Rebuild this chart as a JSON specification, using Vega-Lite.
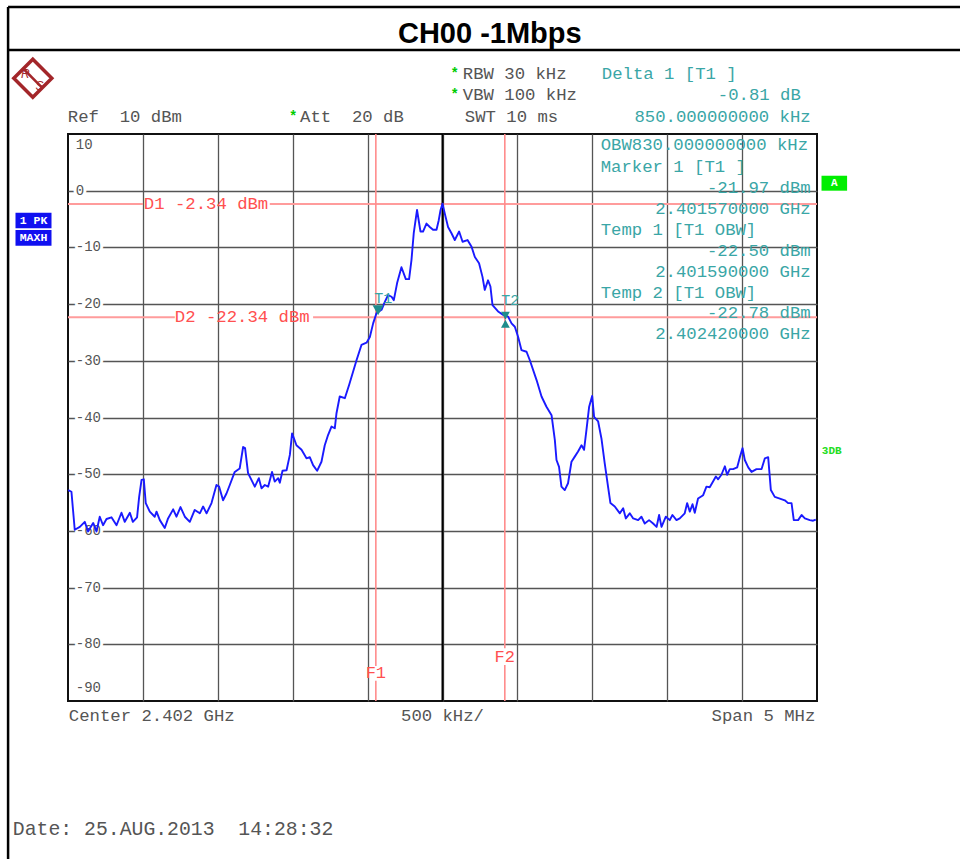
{
  "$schema": "https://vega.github.io/schema/vega-lite/v6.json",
  "width": 749,
  "height": 567,
  "autosize": {"type": "none"},
  "padding": {"left": 68, "top": 134, "right": 143, "bottom": 158},
  "background": "white",
  "config": {"view": {"stroke": "#111111", "strokeWidth": 2}},
  "datasets": {
    "trace": [
      {"x":-2.499,"y":-52.8},{"x":-2.477,"y":-53.1},{"x":-2.455,"y":-59.8},{"x":-2.421,"y":-59.3},{"x":-2.388,"y":-58.4},{"x":-2.366,"y":-60.1},{"x":-2.332,"y":-58.6},{"x":-2.310,"y":-60.1},{"x":-2.288,"y":-57.5},{"x":-2.266,"y":-59.0},{"x":-2.243,"y":-57.9},{"x":-2.210,"y":-57.6},{"x":-2.176,"y":-59.0},{"x":-2.143,"y":-56.8},{"x":-2.121,"y":-58.4},{"x":-2.087,"y":-56.8},{"x":-2.067,"y":-58.4},{"x":-2.039,"y":-57.6},{"x":-2.025,"y":-54.0},{"x":-2.009,"y":-51.0},{"x":-1.994,"y":-50.9},{"x":-1.981,"y":-55.1},{"x":-1.954,"y":-56.6},{"x":-1.921,"y":-57.5},{"x":-1.909,"y":-56.6},{"x":-1.887,"y":-58.1},{"x":-1.854,"y":-59.5},{"x":-1.832,"y":-57.8},{"x":-1.798,"y":-56.2},{"x":-1.776,"y":-57.5},{"x":-1.749,"y":-55.8},{"x":-1.720,"y":-57.5},{"x":-1.687,"y":-58.4},{"x":-1.654,"y":-56.3},{"x":-1.620,"y":-56.9},{"x":-1.598,"y":-55.7},{"x":-1.575,"y":-56.9},{"x":-1.542,"y":-55.1},{"x":-1.509,"y":-51.9},{"x":-1.491,"y":-52.2},{"x":-1.465,"y":-54.6},{"x":-1.442,"y":-53.4},{"x":-1.420,"y":-51.9},{"x":-1.387,"y":-49.6},{"x":-1.354,"y":-49.0},{"x":-1.331,"y":-45.2},{"x":-1.318,"y":-45.4},{"x":-1.298,"y":-49.8},{"x":-1.253,"y":-52.2},{"x":-1.226,"y":-50.7},{"x":-1.208,"y":-52.5},{"x":-1.186,"y":-51.9},{"x":-1.164,"y":-52.2},{"x":-1.138,"y":-49.6},{"x":-1.120,"y":-51.3},{"x":-1.097,"y":-50.7},{"x":-1.086,"y":-51.5},{"x":-1.068,"y":-49.4},{"x":-1.041,"y":-49.3},{"x":-1.019,"y":-46.6},{"x":-1.004,"y":-42.8},{"x":-0.975,"y":-44.9},{"x":-0.941,"y":-45.7},{"x":-0.908,"y":-47.2},{"x":-0.886,"y":-47.0},{"x":-0.864,"y":-48.4},{"x":-0.837,"y":-49.4},{"x":-0.808,"y":-47.8},{"x":-0.786,"y":-44.9},{"x":-0.764,"y":-43.1},{"x":-0.741,"y":-41.6},{"x":-0.719,"y":-41.9},{"x":-0.708,"y":-39.3},{"x":-0.686,"y":-36.3},{"x":-0.652,"y":-36.6},{"x":-0.624,"y":-34.3},{"x":-0.574,"y":-29.9},{"x":-0.541,"y":-27.2},{"x":-0.507,"y":-26.8},{"x":-0.485,"y":-25.8},{"x":-0.463,"y":-23.4},{"x":-0.441,"y":-21.6},{"x":-0.407,"y":-21.0},{"x":-0.385,"y":-19.6},{"x":-0.363,"y":-18.4},{"x":-0.340,"y":-18.7},{"x":-0.325,"y":-19.3},{"x":-0.303,"y":-16.3},{"x":-0.274,"y":-13.5},{"x":-0.245,"y":-15.6},{"x":-0.223,"y":-15.6},{"x":-0.207,"y":-12.2},{"x":-0.192,"y":-7.5},{"x":-0.170,"y":-3.4},{"x":-0.147,"y":-7.2},{"x":-0.130,"y":-7.2},{"x":-0.107,"y":-5.8},{"x":-0.085,"y":-6.4},{"x":-0.063,"y":-6.9},{"x":-0.040,"y":-6.9},{"x":-0.025,"y":-5.2},{"x":-0.013,"y":-3.4},{"x":0.000,"y":-2.3},{"x":0.015,"y":-4.0},{"x":0.037,"y":-6.4},{"x":0.060,"y":-7.5},{"x":0.082,"y":-8.7},{"x":0.111,"y":-7.2},{"x":0.134,"y":-9.0},{"x":0.167,"y":-8.7},{"x":0.194,"y":-9.9},{"x":0.216,"y":-11.7},{"x":0.244,"y":-12.8},{"x":0.267,"y":-15.2},{"x":0.282,"y":-17.5},{"x":0.304,"y":-15.8},{"x":0.320,"y":-16.9},{"x":0.334,"y":-20.2},{"x":0.371,"y":-21.3},{"x":0.405,"y":-21.9},{"x":0.438,"y":-22.2},{"x":0.461,"y":-23.4},{"x":0.483,"y":-24.0},{"x":0.505,"y":-25.8},{"x":0.527,"y":-28.1},{"x":0.561,"y":-28.4},{"x":0.583,"y":-29.9},{"x":0.628,"y":-33.4},{"x":0.661,"y":-36.3},{"x":0.694,"y":-38.1},{"x":0.728,"y":-39.6},{"x":0.750,"y":-44.0},{"x":0.761,"y":-47.5},{"x":0.778,"y":-48.7},{"x":0.794,"y":-52.2},{"x":0.816,"y":-52.8},{"x":0.838,"y":-51.6},{"x":0.861,"y":-47.8},{"x":0.883,"y":-46.9},{"x":0.905,"y":-46.0},{"x":0.928,"y":-44.9},{"x":0.945,"y":-45.7},{"x":0.961,"y":-42.2},{"x":0.979,"y":-38.1},{"x":0.999,"y":-36.2},{"x":1.012,"y":-39.9},{"x":1.039,"y":-40.7},{"x":1.061,"y":-43.7},{"x":1.083,"y":-48.1},{"x":1.105,"y":-52.2},{"x":1.121,"y":-55.1},{"x":1.150,"y":-55.7},{"x":1.184,"y":-56.9},{"x":1.206,"y":-56.0},{"x":1.224,"y":-57.8},{"x":1.250,"y":-56.9},{"x":1.273,"y":-57.8},{"x":1.306,"y":-58.1},{"x":1.328,"y":-57.5},{"x":1.350,"y":-58.7},{"x":1.379,"y":-58.1},{"x":1.406,"y":-58.7},{"x":1.429,"y":-59.3},{"x":1.446,"y":-57.2},{"x":1.462,"y":-59.3},{"x":1.491,"y":-57.5},{"x":1.517,"y":-58.1},{"x":1.535,"y":-57.2},{"x":1.562,"y":-58.1},{"x":1.584,"y":-57.8},{"x":1.617,"y":-56.9},{"x":1.633,"y":-55.1},{"x":1.651,"y":-56.6},{"x":1.669,"y":-55.3},{"x":1.684,"y":-56.8},{"x":1.706,"y":-54.3},{"x":1.740,"y":-53.7},{"x":1.762,"y":-52.2},{"x":1.784,"y":-52.3},{"x":1.806,"y":-51.3},{"x":1.825,"y":-50.4},{"x":1.840,"y":-50.9},{"x":1.862,"y":-50.1},{"x":1.885,"y":-48.6},{"x":1.900,"y":-50.1},{"x":1.918,"y":-49.1},{"x":1.940,"y":-49.1},{"x":1.967,"y":-48.8},{"x":1.985,"y":-47.0},{"x":2.003,"y":-45.4},{"x":2.018,"y":-47.5},{"x":2.041,"y":-48.8},{"x":2.063,"y":-49.6},{"x":2.096,"y":-49.1},{"x":2.130,"y":-49.1},{"x":2.152,"y":-47.2},{"x":2.174,"y":-47.0},{"x":2.192,"y":-52.8},{"x":2.218,"y":-54.0},{"x":2.252,"y":-54.3},{"x":2.285,"y":-54.6},{"x":2.307,"y":-55.1},{"x":2.330,"y":-55.1},{"x":2.345,"y":-58.1},{"x":2.374,"y":-58.1},{"x":2.397,"y":-57.2},{"x":2.419,"y":-57.8},{"x":2.452,"y":-58.1},{"x":2.474,"y":-58.2},{"x":2.492,"y":-58.0}
    ],
    "frame": [
      {"x": -2.9, "x2": -2.9, "y": 32.4, "y2": -125},
      {"x": -2.9, "x2": 3.6, "y": 32.4, "y2": 32.4},
      {"x": -2.9, "x2": 3.6, "y": 24.81, "y2": 24.81}
    ],
    "center": [{"x": 0, "y": 10, "y2": -90}],
    "dlines": [
      {"x": -2.5, "x2": -1.999, "y": -2.34},
      {"x": -1.153, "x2": 2.5, "y": -2.34},
      {"x": -2.5, "x2": -1.787, "y": -22.34},
      {"x": -0.864, "x2": 2.5, "y": -22.34}
    ],
    "flines": [
      {"x": -0.445, "y": 10, "y2": -83.83},
      {"x": -0.445, "y": -86.43, "y2": -90},
      {"x": 0.416, "y": 10, "y2": -80.71},
      {"x": 0.416, "y": -83.66, "y2": -90}
    ],
    "ylabels": [
      {"x": -2.448, "y": 8.06, "t": "10"},
      {"x": -2.448, "y": 0, "t": "0"},
      {"x": -2.448, "y": -10, "t": "-10"},
      {"x": -2.448, "y": -20, "t": "-20"},
      {"x": -2.448, "y": -30, "t": "-30"},
      {"x": -2.448, "y": -40, "t": "-40"},
      {"x": -2.448, "y": -50, "t": "-50"},
      {"x": -2.448, "y": -60, "t": "-60"},
      {"x": -2.448, "y": -70, "t": "-70"},
      {"x": -2.448, "y": -80, "t": "-80"},
      {"x": -2.448, "y": -87.7, "t": "-90"}
    ],
    "grayL": [
      {"x": 0.1355, "y": 20.58, "t": "RBW 30 kHz"},
      {"x": 0.1355, "y": 16.87, "t": "VBW 100 kHz"},
      {"x": 0.1489, "y": 13.08, "t": "SWT 10 ms"},
      {"x": -2.501, "y": 13.08, "t": "Ref\u00a0\u00a010 dBm"},
      {"x": -0.9506, "y": 13.08, "t": "Att\u00a0\u00a020 dB"},
      {"x": -2.4947, "y": -92.65, "t": "Center 2.402 GHz"}
    ],
    "grayC": [{"x": 0, "y": -92.65, "t": "500 kHz/"}],
    "grayR": [{"x": 2.4887, "y": -92.65, "t": "Span 5 MHz"}],
    "date": [{"x": -2.8685, "y": -112.63, "t": "Date: 25.AUG.2013\u00a0\u00a014:28:32"}],
    "stars": [
      {"x": 0.0821, "y": 20.58},
      {"x": 0.0821, "y": 16.87},
      {"x": -0.9973, "y": 13.08}
    ],
    "tealL": [
      {"x": 1.0634, "y": 20.58, "t": "Delta 1 [T1 ]"},
      {"x": 1.056, "y": 8.06, "t": "OBW830.000000000 kHz"},
      {"x": 1.056, "y": 4.23, "t": "Marker 1 [T1 ]"},
      {"x": 1.056, "y": -6.94, "t": "Temp 1 [T1 OBW]"},
      {"x": 1.056, "y": -18.05, "t": "Temp 2 [T1 OBW]"}
    ],
    "tealR": [
      {"x": 2.3919, "y": 16.87, "t": "-0.81 dB"},
      {"x": 2.458, "y": 13.08, "t": "850.000000000 kHz"},
      {"x": 2.458, "y": 0.47, "t": "-21.97 dBm"},
      {"x": 2.458, "y": -3.23, "t": "2.401570000 GHz"},
      {"x": 2.458, "y": -10.59, "t": "-22.50 dBm"},
      {"x": 2.458, "y": -14.29, "t": "2.401590000 GHz"},
      {"x": 2.458, "y": -21.57, "t": "-22.78 dBm"},
      {"x": 2.458, "y": -25.28, "t": "2.402420000 GHz"}
    ],
    "redL": [
      {"x": -1.994, "y": -2.34, "t": "D1 -2.34 dBm"},
      {"x": -1.787, "y": -22.34, "t": "D2 -22.34 dBm"}
    ],
    "redC": [
      {"x": -0.445, "y": -84.98, "t": "F1"},
      {"x": 0.416, "y": -82.19, "t": "F2"}
    ],
    "mlabels": [
      {"x": -0.395, "y": -18.9, "t": "T1"},
      {"x": 0.452, "y": -19.2, "t": "T2"}
    ],
    "m1": [{"x": -0.43, "y": -21.97}],
    "m2": [{"x": 0.42, "y": -22.78}],
    "blueBoxes": [
      {"x": -2.8505, "x2": -2.6101, "y": -3.88, "y2": -6.64, "t": "1 PK", "cy": -5.26},
      {"x": -2.8505, "x2": -2.6101, "y": -6.94, "y2": -9.71, "t": "MAXH", "cy": -8.33}
    ],
    "greenBox": [{"x": 2.5301, "x2": 2.7009, "y": 2.64, "y2": 0.0, "t": "A", "cy": 1.32}],
    "threeDB": [{"x": 2.532, "y": -45.91, "t": "3DB"}],
    "title": [{"x": 0.3158, "y": 27.63, "t": "CH00 -1Mbps"}],
    "logo": [{"x": -2.735, "y": 19.82}],
    "logoBand": [{"x": -2.8033, "y": 21.64, "x2": -2.6698, "y2": 18.11}],
    "logoR": [{"x": -2.785, "y": 20.6, "t": "R"}],
    "logoS": [{"x": -2.69, "y": 18.4, "t": "S"}]
  },
  "encoding": {
    "x": {
      "field": "x", "type": "quantitative",
      "scale": {"domain": [-2.5, 2.5], "nice": false, "zero": false},
      "axis": {"values": [-2, -1.5, -1, -0.5, 0, 0.5, 1, 1.5, 2], "grid": true, "labels": false, "ticks": false, "domain": false, "title": null, "gridColor": "#555555", "gridWidth": 1.3, "gridOpacity": 1}
    },
    "y": {
      "field": "y", "type": "quantitative",
      "scale": {"domain": [-90, 10], "nice": false, "zero": false},
      "axis": {"values": [-80, -70, -60, -50, -40, -30, -20, -10, 0], "grid": true, "labels": false, "ticks": false, "domain": false, "title": null, "gridColor": "#555555", "gridWidth": 1.3, "gridOpacity": 1}
    }
  },
  "layer": [
    {"data": {"name": "frame"}, "mark": {"type": "rule", "color": "#000000", "strokeWidth": 2.5},
     "encoding": {"x2": {"field": "x2"}, "y2": {"field": "y2"}}},
    {"data": {"name": "dlines"}, "mark": {"type": "rule", "color": "#ff9c9c", "strokeWidth": 2},
     "encoding": {"x2": {"field": "x2"}}},
    {"data": {"name": "flines"}, "mark": {"type": "rule", "color": "#ff8c8c", "strokeWidth": 1.6},
     "encoding": {"y2": {"field": "y2"}}},
    {"data": {"name": "center"}, "mark": {"type": "rule", "color": "#000000", "strokeWidth": 2},
     "encoding": {"y2": {"field": "y2"}}},
    {"data": {"name": "ylabels"}, "mark": {"type": "text", "align": "left", "baseline": "middle", "font": "Liberation Mono", "fontSize": 14, "fill": "white", "stroke": "white", "strokeWidth": 6},
     "encoding": {"text": {"field": "t"}}},
    {"data": {"name": "ylabels"}, "mark": {"type": "text", "align": "left", "baseline": "middle", "font": "Liberation Mono", "fontSize": 14, "color": "#555555"},
     "encoding": {"text": {"field": "t"}}},
    {"data": {"name": "trace"}, "mark": {"type": "line", "color": "#1a1aff", "strokeWidth": 1.9, "interpolate": "linear", "strokeJoin": "round"}},
    {"data": {"name": "m1"}, "mark": {"type": "point", "shape": "M-0.55,-1L0.55,-1L0,0Z", "size": 400, "filled": true, "color": "#1f8c8c", "opacity": 1}},
    {"data": {"name": "m2"}, "mark": {"type": "point", "shape": "M-0.55,-1L0.55,-1L0,0L0.55,1L-0.55,1L0,0Z", "size": 256, "filled": true, "color": "#1f8c8c", "opacity": 1}},
    {"data": {"name": "mlabels"}, "mark": {"type": "text", "align": "center", "baseline": "middle", "font": "Liberation Mono", "fontSize": 15, "color": "#3aa6a6"},
     "encoding": {"text": {"field": "t"}}},
    {"data": {"name": "grayL"}, "mark": {"type": "text", "align": "left", "baseline": "middle", "font": "Liberation Mono", "fontSize": 17.3, "color": "#555555"},
     "encoding": {"text": {"field": "t"}}},
    {"data": {"name": "grayC"}, "mark": {"type": "text", "align": "center", "baseline": "middle", "font": "Liberation Mono", "fontSize": 17.3, "color": "#555555"},
     "encoding": {"text": {"field": "t"}}},
    {"data": {"name": "grayR"}, "mark": {"type": "text", "align": "right", "baseline": "middle", "font": "Liberation Mono", "fontSize": 17.3, "color": "#555555"},
     "encoding": {"text": {"field": "t"}}},
    {"data": {"name": "date"}, "mark": {"type": "text", "align": "left", "baseline": "middle", "font": "Liberation Mono", "fontSize": 19.8, "color": "#555555"},
     "encoding": {"text": {"field": "t"}}},
    {"data": {"name": "stars"}, "mark": {"type": "text", "align": "center", "baseline": "middle", "font": "Liberation Mono", "fontSize": 14, "fontWeight": "bold", "color": "#00cc00", "text": "*"}},
    {"data": {"name": "tealL"}, "mark": {"type": "text", "align": "left", "baseline": "middle", "font": "Liberation Mono", "fontSize": 17.3, "color": "#3aa6a6"},
     "encoding": {"text": {"field": "t"}}},
    {"data": {"name": "tealR"}, "mark": {"type": "text", "align": "right", "baseline": "middle", "font": "Liberation Mono", "fontSize": 17.3, "color": "#3aa6a6"},
     "encoding": {"text": {"field": "t"}}},
    {"data": {"name": "redL"}, "mark": {"type": "text", "align": "left", "baseline": "middle", "font": "Liberation Mono", "fontSize": 17.3, "color": "#ff5050"},
     "encoding": {"text": {"field": "t"}}},
    {"data": {"name": "redC"}, "mark": {"type": "text", "align": "center", "baseline": "middle", "font": "Liberation Mono", "fontSize": 17, "color": "#ff5050"},
     "encoding": {"text": {"field": "t"}}},
    {"data": {"name": "blueBoxes"}, "mark": {"type": "rect", "color": "#1010f0"},
     "encoding": {"x2": {"field": "x2"}, "y2": {"field": "y2"}}},
    {"data": {"name": "blueBoxes"}, "mark": {"type": "text", "align": "center", "baseline": "middle", "font": "Liberation Mono", "fontSize": 11.5, "fontWeight": "bold", "color": "white"},
     "encoding": {"x": {"datum": -2.7303, "type": "quantitative"}, "y": {"field": "cy", "type": "quantitative"}, "text": {"field": "t"}}},
    {"data": {"name": "greenBox"}, "mark": {"type": "rect", "color": "#00ee00"},
     "encoding": {"x2": {"field": "x2"}, "y2": {"field": "y2"}}},
    {"data": {"name": "greenBox"}, "mark": {"type": "text", "align": "center", "baseline": "middle", "font": "Liberation Mono", "fontSize": 11, "fontWeight": "bold", "color": "white"},
     "encoding": {"x": {"datum": 2.6155, "type": "quantitative"}, "y": {"field": "cy", "type": "quantitative"}, "text": {"field": "t"}}},
    {"data": {"name": "threeDB"}, "mark": {"type": "text", "align": "left", "baseline": "middle", "font": "Liberation Mono", "fontSize": 11, "fontWeight": "bold", "color": "#22dd22"},
     "encoding": {"text": {"field": "t"}}},
    {"data": {"name": "title"}, "mark": {"type": "text", "align": "center", "baseline": "middle", "font": "Liberation Sans", "fontSize": 29, "fontWeight": "bold", "color": "#000000"},
     "encoding": {"text": {"field": "t"}}},
    {"data": {"name": "logo"}, "mark": {"type": "point", "shape": "diamond", "size": 1444, "filled": true, "fill": "white", "stroke": "#a3262a", "strokeWidth": 3.5, "opacity": 1}},
    {"data": {"name": "logoBand"}, "mark": {"type": "rule", "color": "#a3262a", "strokeWidth": 2.5},
     "encoding": {"x2": {"field": "x2"}, "y2": {"field": "y2"}}},
    {"data": {"name": "logoR"}, "mark": {"type": "text", "align": "center", "baseline": "middle", "font": "Liberation Sans", "fontSize": 12, "fontStyle": "italic", "color": "#a3262a"},
     "encoding": {"text": {"field": "t"}}},
    {"data": {"name": "logoS"}, "mark": {"type": "text", "align": "center", "baseline": "middle", "font": "Liberation Sans", "fontSize": 12, "fontStyle": "italic", "color": "#a3262a"},
     "encoding": {"text": {"field": "t"}}}
  ]
}
